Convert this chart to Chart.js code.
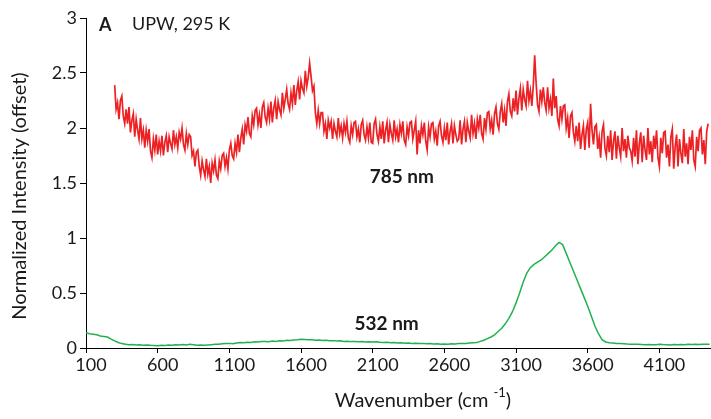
<!DOCTYPE html>
<html>
<head>
<meta charset="utf-8">
<script src="https://cdn.jsdelivr.net/npm/chart.js@4/dist/chart.umd.min.js"></script>
<style>
  html, body { margin: 0; padding: 0; background: #fff; }
  #wrap { width: 711px; height: 419px; }
</style>
</head>
<body>
<div id="wrap"><canvas id="spectraChart" width="711" height="419"></canvas></div>
<script>
// Raman spectra of UPW at 295 K, offset for clarity

// 785 nm spectrum, sampled every 10 cm-1 from 300 cm-1 (one row = 300 cm-1)
const red785Start = 300;
const red785Step = 10;
const red785 = [
    2.39, 2.17, 2.23, 2.08, 2.25, 2.29, 2.11, 2.04, 2.17, 2.04, 2.19, 1.96, 2.07, 2.13, 1.92, 2.08, 1.98, 1.90, 2.09, 1.90, 1.98, 1.82, 1.98, 1.88, 1.99, 1.79, 1.73, 1.90, 1.80, 1.94,
    1.76, 1.88, 1.79, 1.93, 1.75, 1.87, 1.93, 1.78, 1.92, 1.86, 1.81, 1.98, 1.85, 1.92, 1.82, 1.96, 1.90, 2.00, 1.85, 1.80, 1.95, 1.85, 1.94, 1.92, 1.75, 1.79, 1.65, 1.78, 1.80, 1.65,
    1.57, 1.70, 1.62, 1.56, 1.72, 1.58, 1.65, 1.50, 1.68, 1.61, 1.71, 1.57, 1.54, 1.70, 1.63, 1.75, 1.77, 1.65, 1.73, 1.63, 1.80, 1.86, 1.75, 1.72, 1.86, 1.78, 1.94, 1.78, 1.91, 1.99,
    1.85, 2.03, 1.97, 2.10, 1.95, 1.92, 2.11, 2.03, 2.16, 2.18, 2.03, 2.12, 2.00, 2.19, 2.23, 2.10, 2.05, 2.18, 2.08, 2.24, 2.05, 2.18, 2.25, 2.08, 2.24, 2.17, 2.12, 2.32, 2.18, 2.26,
    2.35, 2.22, 2.17, 2.32, 2.22, 2.39, 2.21, 2.34, 2.42, 2.26, 2.43, 2.36, 2.32, 2.52, 2.38, 2.46, 2.59, 2.47, 2.34, 2.38, 2.14, 2.04, 2.16, 2.04, 2.14, 2.14, 1.97, 2.04, 1.90, 2.07,
    2.00, 2.06, 1.90, 2.04, 1.97, 1.92, 2.09, 1.95, 2.02, 1.91, 2.04, 1.96, 2.06, 1.91, 1.87, 2.02, 1.94, 2.05, 2.06, 1.92, 1.99, 1.87, 2.03, 2.07, 1.94, 1.89, 2.01, 1.91, 2.05, 1.87,
    1.86, 2.04, 2.08, 1.94, 1.88, 2.01, 1.90, 2.06, 1.86, 1.98, 2.05, 1.87, 2.03, 1.95, 1.89, 2.07, 1.92, 1.99, 1.87, 2.03, 1.95, 2.06, 1.89, 1.85, 2.01, 1.93, 2.05, 2.06, 1.90, 1.98,
    2.06, 1.76, 1.98, 1.86, 2.02, 1.94, 2.05, 1.88, 1.80, 2.01, 1.92, 2.04, 2.05, 1.90, 1.97, 1.84, 2.02, 2.06, 1.93, 1.87, 2.00, 1.89, 2.05, 1.85, 1.97, 2.04, 1.86, 2.02, 1.94, 1.88,
    1.90, 2.07, 1.85, 1.99, 2.06, 1.87, 2.05, 1.97, 1.91, 2.12, 1.95, 2.04, 1.90, 2.08, 2.00, 2.12, 1.95, 1.90, 2.09, 1.99, 2.14, 2.15, 1.99, 2.07, 1.94, 2.13, 2.19, 2.04, 1.99, 2.15,
    2.22, 2.05, 2.16, 2.02, 2.24, 2.31, 2.15, 2.11, 2.27, 2.15, 2.34, 2.12, 2.27, 2.36, 2.16, 2.35, 2.26, 2.20, 2.43, 2.25, 2.34, 2.20, 2.38, 2.66, 2.41, 2.21, 2.15, 2.35, 2.24, 2.37,
    2.23, 2.16, 2.37, 2.18, 2.26, 2.11, 2.45, 2.18, 2.29, 2.08, 2.02, 2.20, 2.08, 2.20, 2.21, 2.00, 2.09, 1.91, 2.11, 2.14, 1.96, 1.88, 2.02, 1.88, 2.05, 1.81, 1.94, 2.02, 1.80, 1.99,
    2.05, 1.82, 2.22, 1.98, 1.85, 2.01, 2.03, 1.81, 1.91, 1.73, 1.97, 2.03, 1.82, 1.75, 1.93, 1.78, 1.98, 1.71, 1.88, 1.97, 1.72, 1.93, 1.82, 1.74, 2.00, 1.79, 1.90, 1.73, 1.93, 1.82,
    1.79, 1.70, 1.91, 1.74, 1.98, 1.67, 1.86, 1.96, 1.69, 1.93, 1.80, 1.71, 2.00, 1.76, 1.88, 1.69, 1.93, 1.81, 1.98, 1.73, 1.65, 1.91, 1.77, 1.96, 1.97, 1.73, 1.85, 1.65, 1.92, 1.99,
    1.63, 1.83, 1.94, 1.65, 1.90, 1.77, 1.68, 1.99, 1.74, 1.86, 1.67, 1.92, 1.80, 1.98, 1.71, 1.65, 1.92, 1.79, 1.98, 2.00, 1.76, 1.89, 1.67, 1.97, 2.04
];

// 532 nm spectrum, sampled every 25 cm-1 from 100 cm-1 (one row = 500 cm-1)
const green532Start = 100;
const green532Step = 25;
const green532 = [
    0.14, 0.13, 0.125, 0.12, 0.11, 0.105, 0.10, 0.08, 0.065, 0.05, 0.04, 0.035, 0.03, 0.032, 0.028, 0.03, 0.026, 0.028, 0.024, 0.022,
    0.02, 0.025, 0.022, 0.028, 0.025, 0.03, 0.027, 0.031, 0.028, 0.033, 0.03, 0.026, 0.028, 0.024, 0.027, 0.03, 0.033, 0.035, 0.038, 0.04,
    0.042, 0.038, 0.045, 0.05, 0.048, 0.053, 0.05, 0.056, 0.054, 0.058, 0.06, 0.057, 0.063, 0.06, 0.066, 0.064, 0.07, 0.068, 0.073, 0.075,
    0.08, 0.078, 0.074, 0.076, 0.07, 0.072, 0.068, 0.07, 0.065, 0.067, 0.063, 0.065, 0.06, 0.062, 0.058, 0.06, 0.057, 0.059, 0.055, 0.057,
    0.054, 0.056, 0.052, 0.05, 0.053, 0.048, 0.05, 0.046, 0.048, 0.044, 0.046, 0.042, 0.044, 0.04, 0.042, 0.038, 0.04, 0.036, 0.039, 0.035,
    0.037, 0.035, 0.038, 0.036, 0.04, 0.042, 0.04, 0.045, 0.048, 0.05, 0.06, 0.07, 0.085, 0.10, 0.12, 0.15, 0.18, 0.22, 0.27, 0.33,
    0.41, 0.50, 0.60, 0.68, 0.73, 0.76, 0.78, 0.80, 0.83, 0.86, 0.89, 0.93, 0.96, 0.94, 0.86, 0.78, 0.70, 0.62, 0.54, 0.46,
    0.38, 0.29, 0.20, 0.13, 0.075, 0.055, 0.048, 0.045, 0.042, 0.04, 0.038, 0.036, 0.035, 0.033, 0.034, 0.032, 0.03, 0.031, 0.029, 0.03,
    0.034, 0.031, 0.03, 0.028, 0.031, 0.029, 0.032, 0.03, 0.033, 0.031, 0.034, 0.032, 0.035, 0.033, 0.035
];

// Tick labels
const xTicks = [100, 600, 1100, 1600, 2100, 2600, 3100, 3600, 4100];
const yTicks = [0, 0.5, 1, 1.5, 2, 2.5, 3];

const FONT = 'Lato, "Open Sans", sans-serif';
const TEXT_COLOR = '#1a1a1a';

/**
 * Pair each sampled value with its wavenumber
 */
function toPoints(values, start, step) {
    return values.map((v, i) => ({ x: start + i * step, y: v }));
}

/**
 * Labels, panel tag and axis titles drawn straight on the canvas
 */
const annotationPlugin = {
    id: 'annotations',
    afterDraw(chart) {
        const ctx = chart.ctx;
        const xs = chart.scales.x;
        const ys = chart.scales.y;
        ctx.save();
        ctx.fillStyle = TEXT_COLOR;
        ctx.textBaseline = 'alphabetic';

        // panel tag
        ctx.textAlign = 'left';
        ctx.font = 'bold 18px ' + FONT;
        ctx.fillText('A', 99, 31);
        ctx.font = '18px ' + FONT;
        ctx.fillText('UPW, 295 K', 132, 29.5);

        // series labels
        ctx.textAlign = 'center';
        ctx.font = 'bold 19px ' + FONT;
        ctx.fillText('785 nm', xs.getPixelForValue(2303), ys.getPixelForValue(1.5));
        ctx.fillText('532 nm', xs.getPixelForValue(2197), ys.getPixelForValue(0.164));

        // y axis title
        ctx.font = '20px ' + FONT;
        ctx.save();
        ctx.translate(26, 196);
        ctx.rotate(-Math.PI / 2);
        ctx.fillText('Normalized Intensity (offset)', 0, 0);
        ctx.restore();

        // x axis title with superscript
        const main = 'Wavenumber (cm ';
        const sup = '-1';
        const tail = ')';
        ctx.font = '20px ' + FONT;
        const wMain = ctx.measureText(main).width;
        const wTail = ctx.measureText(tail).width;
        ctx.font = '13px ' + FONT;
        const wSup = ctx.measureText(sup).width;
        const x0 = 423 - (wMain + wSup + wTail) / 2;
        ctx.textAlign = 'left';
        ctx.font = '20px ' + FONT;
        ctx.fillText(main, x0, 407);
        ctx.font = '13px ' + FONT;
        ctx.fillText(sup, x0 + wMain, 397);
        ctx.font = '20px ' + FONT;
        ctx.fillText(tail, x0 + wMain + wSup, 407);
        ctx.restore();
    }
};

document.addEventListener('DOMContentLoaded', () => {
    const ctx = document.getElementById('spectraChart');

    new Chart(ctx, {
        type: 'line',
        data: {
            datasets: [
                {
                    label: '785 nm',
                    data: toPoints(red785, red785Start, red785Step),
                    borderColor: 'rgb(237, 32, 36)',
                    borderWidth: 1.7,
                    pointRadius: 0,
                    tension: 0,
                    fill: false
                },
                {
                    label: '532 nm',
                    data: toPoints(green532, green532Start, green532Step),
                    borderColor: 'rgb(34, 177, 76)',
                    borderWidth: 1.5,
                    pointRadius: 0,
                    tension: 0,
                    fill: false
                }
            ]
        },
        options: {
            responsive: false,
            animation: false,
            devicePixelRatio: 1,
            layout: {
                padding: { top: 18, right: 0, bottom: 0, left: 0 }
            },
            plugins: {
                legend: { display: false },
                tooltip: { enabled: false }
            },
            scales: {
                x: {
                    type: 'linear',
                    min: 100,
                    max: 4460,
                    afterBuildTicks: (scale) => {
                        scale.ticks = xTicks.map(v => ({ value: v }));
                    },
                    afterFit: (scale) => {
                        scale.height = 71;
                    },
                    ticks: {
                        color: TEXT_COLOR,
                        font: { family: FONT, size: 18 },
                        maxRotation: 0,
                        autoSkip: false,
                        padding: 1,
                        labelOffset: 5,
                        callback: (v) => String(v)
                    },
                    grid: {
                        drawOnChartArea: false,
                        drawTicks: true,
                        tickLength: 5,
                        color: '#000'
                    },
                    border: { display: true, color: '#000', width: 1 }
                },
                y: {
                    min: 0,
                    max: 3,
                    afterBuildTicks: (scale) => {
                        scale.ticks = yTicks.map(v => ({ value: v }));
                    },
                    afterFit: (scale) => {
                        scale.width = 86;
                    },
                    ticks: {
                        color: TEXT_COLOR,
                        font: { family: FONT, size: 18 },
                        autoSkip: false,
                        padding: 3,
                        callback: (v) => String(v)
                    },
                    grid: {
                        drawOnChartArea: false,
                        drawTicks: true,
                        tickLength: 6,
                        color: '#000'
                    },
                    border: { display: true, color: '#000', width: 1 }
                }
            }
        },
        plugins: [annotationPlugin]
    });
});
</script>
</body>
</html>
